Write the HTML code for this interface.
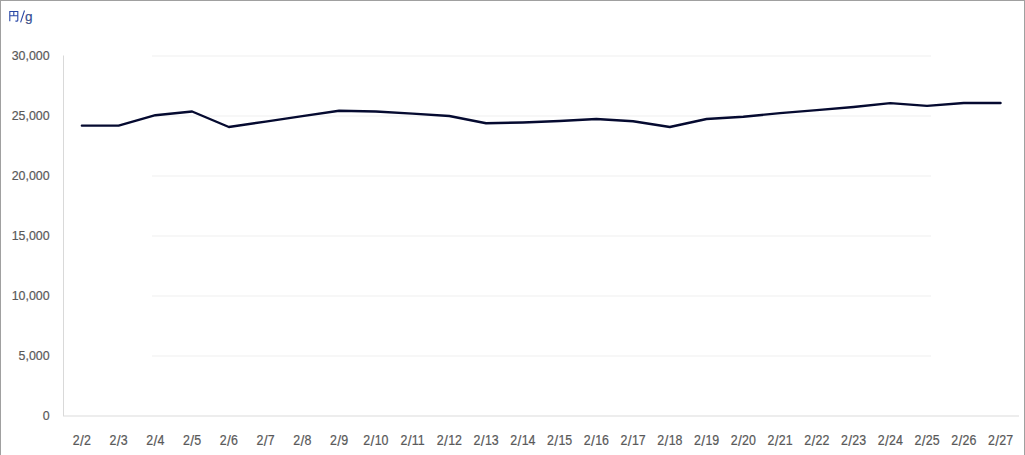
<!DOCTYPE html>
<html><head><meta charset="utf-8">
<style>
html,body{margin:0;padding:0;background:#fff;}
body{width:1025px;height:455px;overflow:hidden;position:relative;}
svg{position:absolute;left:0;top:0;display:block;}
text{font-family:"Liberation Sans",sans-serif;font-size:13px;fill:#595959;stroke:#595959;stroke-width:0.2px;}
</style></head>
<body>
<svg width="1025" height="455" viewBox="0 0 1025 455">
<rect x="0" y="0" width="1025" height="455" fill="#fff"/>
<!-- border -->
<line x1="0" y1="0.5" x2="1025" y2="0.5" stroke="#a0a0a0" stroke-width="1"/>
<line x1="0.5" y1="0" x2="0.5" y2="455" stroke="#a0a0a0" stroke-width="1"/>
<line x1="1024.5" y1="0" x2="1024.5" y2="455" stroke="#a0a0a0" stroke-width="1"/>
<line x1="152" y1="56" x2="931" y2="56" stroke="#efefef" stroke-width="1"/>
<line x1="152" y1="116" x2="931" y2="116" stroke="#efefef" stroke-width="1"/>
<line x1="152" y1="176" x2="931" y2="176" stroke="#efefef" stroke-width="1"/>
<line x1="152" y1="236" x2="931" y2="236" stroke="#efefef" stroke-width="1"/>
<line x1="152" y1="296" x2="931" y2="296" stroke="#efefef" stroke-width="1"/>
<line x1="152" y1="356" x2="931" y2="356" stroke="#efefef" stroke-width="1"/>

<line x1="63.5" y1="55.5" x2="63.5" y2="416" stroke="#d9d9d9" stroke-width="1"/>
<line x1="63" y1="416" x2="1019" y2="416" stroke="#dcdcdc" stroke-width="1.1"/>
<polyline points="81.87,125.60 118.62,125.60 155.37,115.20 192.11,111.50 228.86,127.00 265.60,121.57 302.35,116.13 339.10,110.80 375.84,111.50 412.59,113.60 449.33,116.00 486.08,123.30 522.83,122.50 559.57,121.00 596.32,119.00 633.07,121.30 669.81,127.00 706.56,119.00 743.30,116.70 780.05,113.10 816.80,110.10 853.54,107.00 890.29,103.10 927.03,105.90 963.78,103.00 1000.53,103.00" fill="none" stroke="#050a30" stroke-width="2.4" stroke-linejoin="round" stroke-linecap="round"/>
<text transform="translate(49.6 60.4) scale(0.955 1.04)" text-anchor="end">30,000</text>
<text transform="translate(49.6 120.4) scale(0.955 1.04)" text-anchor="end">25,000</text>
<text transform="translate(49.6 180.4) scale(0.955 1.04)" text-anchor="end">20,000</text>
<text transform="translate(49.6 240.4) scale(0.955 1.04)" text-anchor="end">15,000</text>
<text transform="translate(49.6 300.4) scale(0.955 1.04)" text-anchor="end">10,000</text>
<text transform="translate(49.6 360.4) scale(0.955 1.04)" text-anchor="end">5,000</text>
<text transform="translate(49.6 420.4) scale(0.955 1.04)" text-anchor="end">0</text>

<text transform="translate(81.87 444.8) scale(0.955 1.07)" text-anchor="middle">2<tspan dx="0.4" dy="0.9" style="font-size:14.5px">/</tspan><tspan dx="0.3" dy="-0.9">2</tspan></text>
<text transform="translate(118.62 444.8) scale(0.955 1.07)" text-anchor="middle">2<tspan dx="0.4" dy="0.9" style="font-size:14.5px">/</tspan><tspan dx="0.3" dy="-0.9">3</tspan></text>
<text transform="translate(155.37 444.8) scale(0.955 1.07)" text-anchor="middle">2<tspan dx="0.4" dy="0.9" style="font-size:14.5px">/</tspan><tspan dx="0.3" dy="-0.9">4</tspan></text>
<text transform="translate(192.11 444.8) scale(0.955 1.07)" text-anchor="middle">2<tspan dx="0.4" dy="0.9" style="font-size:14.5px">/</tspan><tspan dx="0.3" dy="-0.9">5</tspan></text>
<text transform="translate(228.86 444.8) scale(0.955 1.07)" text-anchor="middle">2<tspan dx="0.4" dy="0.9" style="font-size:14.5px">/</tspan><tspan dx="0.3" dy="-0.9">6</tspan></text>
<text transform="translate(265.60 444.8) scale(0.955 1.07)" text-anchor="middle">2<tspan dx="0.4" dy="0.9" style="font-size:14.5px">/</tspan><tspan dx="0.3" dy="-0.9">7</tspan></text>
<text transform="translate(302.35 444.8) scale(0.955 1.07)" text-anchor="middle">2<tspan dx="0.4" dy="0.9" style="font-size:14.5px">/</tspan><tspan dx="0.3" dy="-0.9">8</tspan></text>
<text transform="translate(339.10 444.8) scale(0.955 1.07)" text-anchor="middle">2<tspan dx="0.4" dy="0.9" style="font-size:14.5px">/</tspan><tspan dx="0.3" dy="-0.9">9</tspan></text>
<text transform="translate(375.84 444.8) scale(0.955 1.07)" text-anchor="middle">2<tspan dx="0.4" dy="0.9" style="font-size:14.5px">/</tspan><tspan dx="0.3" dy="-0.9">10</tspan></text>
<text transform="translate(412.59 444.8) scale(0.955 1.07)" text-anchor="middle">2<tspan dx="0.4" dy="0.9" style="font-size:14.5px">/</tspan><tspan dx="0.3" dy="-0.9">11</tspan></text>
<text transform="translate(449.33 444.8) scale(0.955 1.07)" text-anchor="middle">2<tspan dx="0.4" dy="0.9" style="font-size:14.5px">/</tspan><tspan dx="0.3" dy="-0.9">12</tspan></text>
<text transform="translate(486.08 444.8) scale(0.955 1.07)" text-anchor="middle">2<tspan dx="0.4" dy="0.9" style="font-size:14.5px">/</tspan><tspan dx="0.3" dy="-0.9">13</tspan></text>
<text transform="translate(522.83 444.8) scale(0.955 1.07)" text-anchor="middle">2<tspan dx="0.4" dy="0.9" style="font-size:14.5px">/</tspan><tspan dx="0.3" dy="-0.9">14</tspan></text>
<text transform="translate(559.57 444.8) scale(0.955 1.07)" text-anchor="middle">2<tspan dx="0.4" dy="0.9" style="font-size:14.5px">/</tspan><tspan dx="0.3" dy="-0.9">15</tspan></text>
<text transform="translate(596.32 444.8) scale(0.955 1.07)" text-anchor="middle">2<tspan dx="0.4" dy="0.9" style="font-size:14.5px">/</tspan><tspan dx="0.3" dy="-0.9">16</tspan></text>
<text transform="translate(633.07 444.8) scale(0.955 1.07)" text-anchor="middle">2<tspan dx="0.4" dy="0.9" style="font-size:14.5px">/</tspan><tspan dx="0.3" dy="-0.9">17</tspan></text>
<text transform="translate(669.81 444.8) scale(0.955 1.07)" text-anchor="middle">2<tspan dx="0.4" dy="0.9" style="font-size:14.5px">/</tspan><tspan dx="0.3" dy="-0.9">18</tspan></text>
<text transform="translate(706.56 444.8) scale(0.955 1.07)" text-anchor="middle">2<tspan dx="0.4" dy="0.9" style="font-size:14.5px">/</tspan><tspan dx="0.3" dy="-0.9">19</tspan></text>
<text transform="translate(743.30 444.8) scale(0.955 1.07)" text-anchor="middle">2<tspan dx="0.4" dy="0.9" style="font-size:14.5px">/</tspan><tspan dx="0.3" dy="-0.9">20</tspan></text>
<text transform="translate(780.05 444.8) scale(0.955 1.07)" text-anchor="middle">2<tspan dx="0.4" dy="0.9" style="font-size:14.5px">/</tspan><tspan dx="0.3" dy="-0.9">21</tspan></text>
<text transform="translate(816.80 444.8) scale(0.955 1.07)" text-anchor="middle">2<tspan dx="0.4" dy="0.9" style="font-size:14.5px">/</tspan><tspan dx="0.3" dy="-0.9">22</tspan></text>
<text transform="translate(853.54 444.8) scale(0.955 1.07)" text-anchor="middle">2<tspan dx="0.4" dy="0.9" style="font-size:14.5px">/</tspan><tspan dx="0.3" dy="-0.9">23</tspan></text>
<text transform="translate(890.29 444.8) scale(0.955 1.07)" text-anchor="middle">2<tspan dx="0.4" dy="0.9" style="font-size:14.5px">/</tspan><tspan dx="0.3" dy="-0.9">24</tspan></text>
<text transform="translate(927.03 444.8) scale(0.955 1.07)" text-anchor="middle">2<tspan dx="0.4" dy="0.9" style="font-size:14.5px">/</tspan><tspan dx="0.3" dy="-0.9">25</tspan></text>
<text transform="translate(963.78 444.8) scale(0.955 1.07)" text-anchor="middle">2<tspan dx="0.4" dy="0.9" style="font-size:14.5px">/</tspan><tspan dx="0.3" dy="-0.9">26</tspan></text>
<text transform="translate(1000.53 444.8) scale(0.955 1.07)" text-anchor="middle">2<tspan dx="0.4" dy="0.9" style="font-size:14.5px">/</tspan><tspan dx="0.3" dy="-0.9">27</tspan></text>

<!-- title 円/g -->
<g fill="none" stroke="#2947a6" stroke-width="1.1">
<path d="M9.8 21.2 V11.5 H17.8 V20.3 Q17.8 21.1 17 21.1 H15.4"/>
<path d="M13.8 11.5 V15.8 M9.8 15.8 H17.8"/>
<path d="M24.5 10.5 L20.6 22.4"/>
</g>
<text x="25" y="21" style="fill:#2947a6;font-size:13.5px">g</text>
</svg>
</body></html>
